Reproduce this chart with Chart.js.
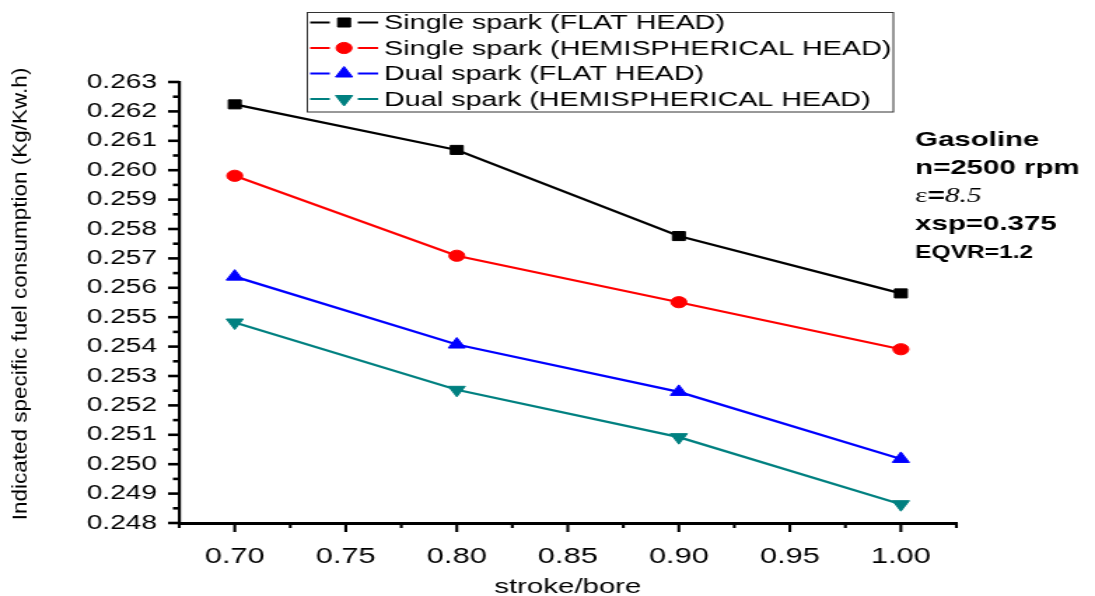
<!DOCTYPE html>
<html>
<head>
<meta charset="utf-8">
<script src="https://cdn.jsdelivr.net/npm/chart.js@4.4.1/dist/chart.umd.min.js"></script>
<style>
  html, body { margin: 0; padding: 0; background: #fff; overflow: hidden; }
  #wrap { width: 1095px; height: 596px; overflow: hidden; }
  /* the reference is horizontally stretched, so draw narrow and stretch */
  #c { display: block; transform: scaleX(1.40026); transform-origin: 0 0; }
</style>
</head>
<body>
<div id="wrap"><canvas id="c" width="782" height="596"></canvas></div>
<script>
(function(){
  // --- data ---
  const strokeBore = [0.70, 0.80, 0.90, 1.00];
  const singleFlat = [0.26224, 0.26069, 0.25776, 0.25581];
  const singleHemi = [0.25981, 0.25709, 0.25551, 0.25391];
  const dualFlat   = [0.25638, 0.25407, 0.25246, 0.25018];
  const dualHemi   = [0.25482, 0.25253, 0.25092, 0.24864];

  const seriesNames = [
    'Single spark (FLAT HEAD)',
    'Single spark (HEMISPHERICAL HEAD)',
    'Dual spark (FLAT HEAD)',
    'Dual spark (HEMISPHERICAL HEAD)'
  ];

  // major tick values (minor ticks sit halfway)
  const yMajor = [0.248,0.249,0.250,0.251,0.252,0.253,0.254,0.255,0.256,0.257,0.258,0.259,0.260,0.261,0.262,0.263];
  const xMajor = [0.70,0.75,0.80,0.85,0.90,0.95,1.00];
  const xMin = 0.675, xMax = 1.025;

  const notes = ['Gasoline', 'n=2500 rpm', 'ε=8.5', 'xsp=0.375', 'EQVR=1.2'];

  const SANS = '"Liberation Sans", Arial, sans-serif';
  const SERIF = '"Liberation Serif", "Times New Roman", serif';

  function pts(ys){ return strokeBore.map((x,i)=>({ x, y: ys[i] })); }

  function mkSet(label, ys, color, style, r, rot){
    return {
      label, data: pts(ys),
      borderColor: color, backgroundColor: color,
      pointBackgroundColor: color, pointBorderColor: color,
      pointStyle: style, pointRadius: r, pointHoverRadius: r,
      pointRotation: rot || 0, pointBorderWidth: 1,
      borderWidth: 2.2, tension: 0, fill: false
    };
  }

  const datasets = [
    mkSet(seriesNames[0], singleFlat, '#000000', 'rect', 6.4),
    mkSet(seriesNames[1], singleHemi, '#ff0000', 'circle', 5.6),
    mkSet(seriesNames[2], dualFlat,   '#0000ff', 'triangle', 7),
    mkSet(seriesNames[3], dualHemi,   '#008080', 'triangle', 7, 180)
  ];

  function withMinors(major, lo, hi){
    const out = [];
    const step = major[1]-major[0];
    if(lo !== undefined && lo < major[0]) out.push({ value: lo, major: false });
    major.forEach((v,i)=>{
      out.push({ value: v, major: true });
      if(i < major.length-1) out.push({ value: +(v + step/2).toFixed(6), major: false });
    });
    if(hi !== undefined && hi > major[major.length-1]) out.push({ value: hi, major: false });
    return out;
  }

  // outward major/minor tick marks
  const tickMarks = {
    id: 'tickMarks',
    afterDraw(chart){
      const ctx = chart.ctx;
      const ys = chart.scales.y, xs = chart.scales.x;
      const area = chart.chartArea;
      ctx.save();
      ctx.strokeStyle = '#000';
      ctx.lineWidth = 2.6;
      ys.ticks.forEach(t=>{
        const py = ys.getPixelForValue(t.value);
        const len = t.major ? 8 : 4.5;
        ctx.beginPath(); ctx.moveTo(area.left - len, py); ctx.lineTo(area.left, py); ctx.stroke();
      });
      ctx.lineWidth = 2.1;
      xs.ticks.forEach(t=>{
        const px = xs.getPixelForValue(t.value);
        const len = t.major ? 9 : 5;
        ctx.beginPath(); ctx.moveTo(px, area.bottom); ctx.lineTo(px, area.bottom + len); ctx.stroke();
      });
      ctx.restore();
    }
  };

  // y title, legend box and the notes on the right
  const decor = {
    id: 'decor',
    afterDraw(chart){
      const ctx = chart.ctx;
      ctx.save();
      // y title (rotated, kept narrow so stretch does not widen it)
      ctx.translate(14.3, 294);
      ctx.rotate(-Math.PI/2);
      ctx.scale(1, 0.68);
      ctx.fillStyle = '#000';
      ctx.font = '22.5px ' + SANS;
      ctx.textAlign = 'center'; ctx.textBaseline = 'middle';
      ctx.fillText('Indicated specific fuel consumption (Kg/Kw.h)', 0, 0);
      ctx.restore();

      // legend
      ctx.save();
      ctx.strokeStyle = '#333'; ctx.lineWidth = 1;
      ctx.strokeRect(219.5, 12.5, 418.5, 99.5);
      const rowsY = [22.5, 48, 73.5, 99];
      chart.data.datasets.forEach((ds,i)=>{
        const y = rowsY[i];
        ctx.strokeStyle = ds.borderColor; ctx.lineWidth = 2.2;
        ctx.beginPath(); ctx.moveTo(221.5, y); ctx.lineTo(235.5, y); ctx.moveTo(255.5, y); ctx.lineTo(270, y); ctx.stroke();
        ctx.fillStyle = ds.pointBackgroundColor; ctx.strokeStyle = ds.pointBorderColor; ctx.lineWidth = 1;
        Chart.helpers.drawPoint(ctx, { pointStyle: ds.pointStyle, radius: ds.pointRadius, rotation: ds.pointRotation, borderWidth: 1 }, 245.7, y);
        ctx.fillStyle = '#000';
        ctx.font = '20.5px ' + SANS;
        ctx.textAlign = 'left'; ctx.textBaseline = 'middle';
        ctx.fillText(ds.label, 274.3, y + 1);
      });
      ctx.restore();

      // notes
      ctx.save();
      ctx.fillStyle = '#000';
      ctx.textAlign = 'left'; ctx.textBaseline = 'middle';
      const nx = 653.6;
      ctx.font = 'bold 21px ' + SANS;
      ctx.fillText(notes[0], nx, 140);
      ctx.fillText(notes[1], nx, 168);
      // ε=8.5 : serif epsilon and number
      let cx = nx;
      ctx.font = '21px ' + SERIF; ctx.fillText('ε', cx, 196); cx += ctx.measureText('ε').width;
      ctx.font = 'bold 21px ' + SANS; ctx.fillText('=', cx, 196); cx += ctx.measureText('=').width;
      ctx.font = 'italic 21px ' + SERIF; ctx.fillText(notes[2].split('=')[1], cx, 196);
      ctx.font = 'bold 21px ' + SANS;
      ctx.fillText(notes[3], nx, 224);
      ctx.font = 'bold 17.5px ' + SANS;
      ctx.fillText(notes[4], nx, 253);
      ctx.restore();
    }
  };

  new Chart(document.getElementById('c').getContext('2d'), {
    type: 'line',
    data: { datasets },
    options: {
      responsive: false,
      devicePixelRatio: 1,
      animation: false,
      events: [],
      layout: { padding: { left: 0, top: 82, right: 99, bottom: 0 } },
      plugins: { legend: { display: false }, tooltip: { enabled: false } },
      scales: {
        x: {
          type: 'linear', min: xMin, max: xMax,
          afterBuildTicks: (s)=>{ s.ticks = withMinors(xMajor, xMin, xMax); },
          afterFit: (s)=>{ s.height = 73; },
          grid: { display: false },
          border: { display: true, color: '#000', width: 3 },
          ticks: {
            autoSkip: false, maxRotation: 0, padding: 13, color: '#000',
            font: { family: SANS, size: 22 },
            callback: (v, i, ticks)=> ticks[i].major ? Number(v).toFixed(2) : ''
          },
          title: { display: true, text: 'stroke/bore', color: '#000', font: { family: SANS, size: 21 }, padding: { top: 0, bottom: -4 } }
        },
        y: {
          type: 'linear', min: yMajor[0], max: yMajor[yMajor.length-1],
          afterBuildTicks: (s)=>{ s.ticks = withMinors(yMajor); },
          afterFit: (s)=>{ s.width = 128; },
          grid: { display: false },
          border: { display: true, color: '#000', width: 2.2 },
          ticks: {
            autoSkip: false, padding: 8, color: '#000',
            font: { family: SANS, size: 20 },
            callback: (v, i, ticks)=> ticks[i].major ? Number(v).toFixed(3) : ''
          }
        }
      }
    },
    plugins: [tickMarks, decor]
  });
})();
</script>
</body>
</html>
